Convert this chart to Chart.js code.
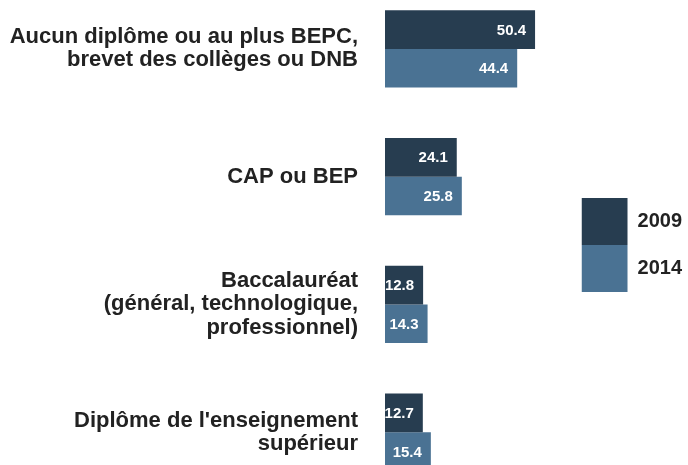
<!DOCTYPE html>
<html lang="fr">
<head>
<meta charset="utf-8">
<title>Niveau de diplôme, 2009 et 2014</title>
<script src="https://cdn.jsdelivr.net/npm/chart.js@4/dist/chart.umd.min.js"></script>
<style>
  html, body { margin: 0; padding: 0; background: #ffffff; overflow: hidden; width: 688px; height: 465px; }
  #wrap { position: absolute; left: 0; top: -15px; width: 692px; height: 511px; }
  canvas { display: block; }
</style>
</head>
<body>
<div id="wrap"><canvas id="chart" width="692" height="511"></canvas></div>
<script>
// Diploma categories (multi-line tick labels)
const categories = [
  ["Aucun diplôme ou au plus BEPC,", "brevet des collèges ou DNB"],
  "CAP ou BEP",
  ["Baccalauréat", "(général, technologique,", "professionnel)"],
  ["Diplôme de l'enseignement", "supérieur"]
];

// Shares per year
const values2009 = [50.4, 24.1, 12.8, 12.7];
const values2014 = [44.4, 25.8, 14.3, 15.4];

const seriesNames = ["2009", "2014"];
const colorDark = "#273d50";
const colorLight = "#4a7293";
const fontFamily = "'Liberation Sans', Arial, Helvetica, sans-serif";

// Writes each bar's value in white just inside its end
const valueLabels = {
  id: "valueLabels",
  afterDatasetsDraw(chart) {
    const ctx = chart.ctx;
    ctx.save();
    ctx.font = "bold 15px " + fontFamily;
    ctx.fillStyle = "#ffffff";
    ctx.textAlign = "right";
    ctx.textBaseline = "middle";
    chart.data.datasets.forEach((ds, di) => {
      const meta = chart.getDatasetMeta(di);
      meta.data.forEach((bar, i) => {
        ctx.fillText(ds.data[i].toFixed(1), bar.x - 9, bar.y + 1);
      });
    });
    ctx.restore();
  }
};

new Chart(document.getElementById("chart"), {
  type: "bar",
  data: {
    labels: categories,
    datasets: [
      { label: seriesNames[0], data: values2009, backgroundColor: colorDark, borderWidth: 0 },
      { label: seriesNames[1], data: values2014, backgroundColor: colorLight, borderWidth: 0 }
    ]
  },
  options: {
    indexAxis: "y",
    responsive: false,
    animation: false,
    devicePixelRatio: 1,
    categoryPercentage: 0.604,
    barPercentage: 1,
    layout: { padding: 0 },
    scales: {
      x: { display: false, min: 0, max: 66 },
      y: {
        grid: { display: false, drawTicks: false },
        border: { display: false },
        ticks: {
          padding: 27,
          color: "#222222",
          font: { family: fontFamily, size: 22, weight: "bold", lineHeight: 1.05 }
        },
        afterFit(scale) {
          // fixed label column; category bands fill the full height
          scale.width = 385;
          scale.paddingTop = 0;
          scale.paddingBottom = 0;
        }
      }
    },
    plugins: {
      tooltip: { enabled: false },
      legend: {
        position: "right",
        align: "center",
        title: { display: true, text: "", padding: 0, font: { size: 9, lineHeight: 1 } },
        labels: {
          boxWidth: 46,
          boxHeight: 47,
          padding: 0,
          color: "#222222",
          font: { family: fontFamily, size: 20, weight: "bold" }
        }
      }
    }
  },
  plugins: [valueLabels]
});
</script>
</body>
</html>
